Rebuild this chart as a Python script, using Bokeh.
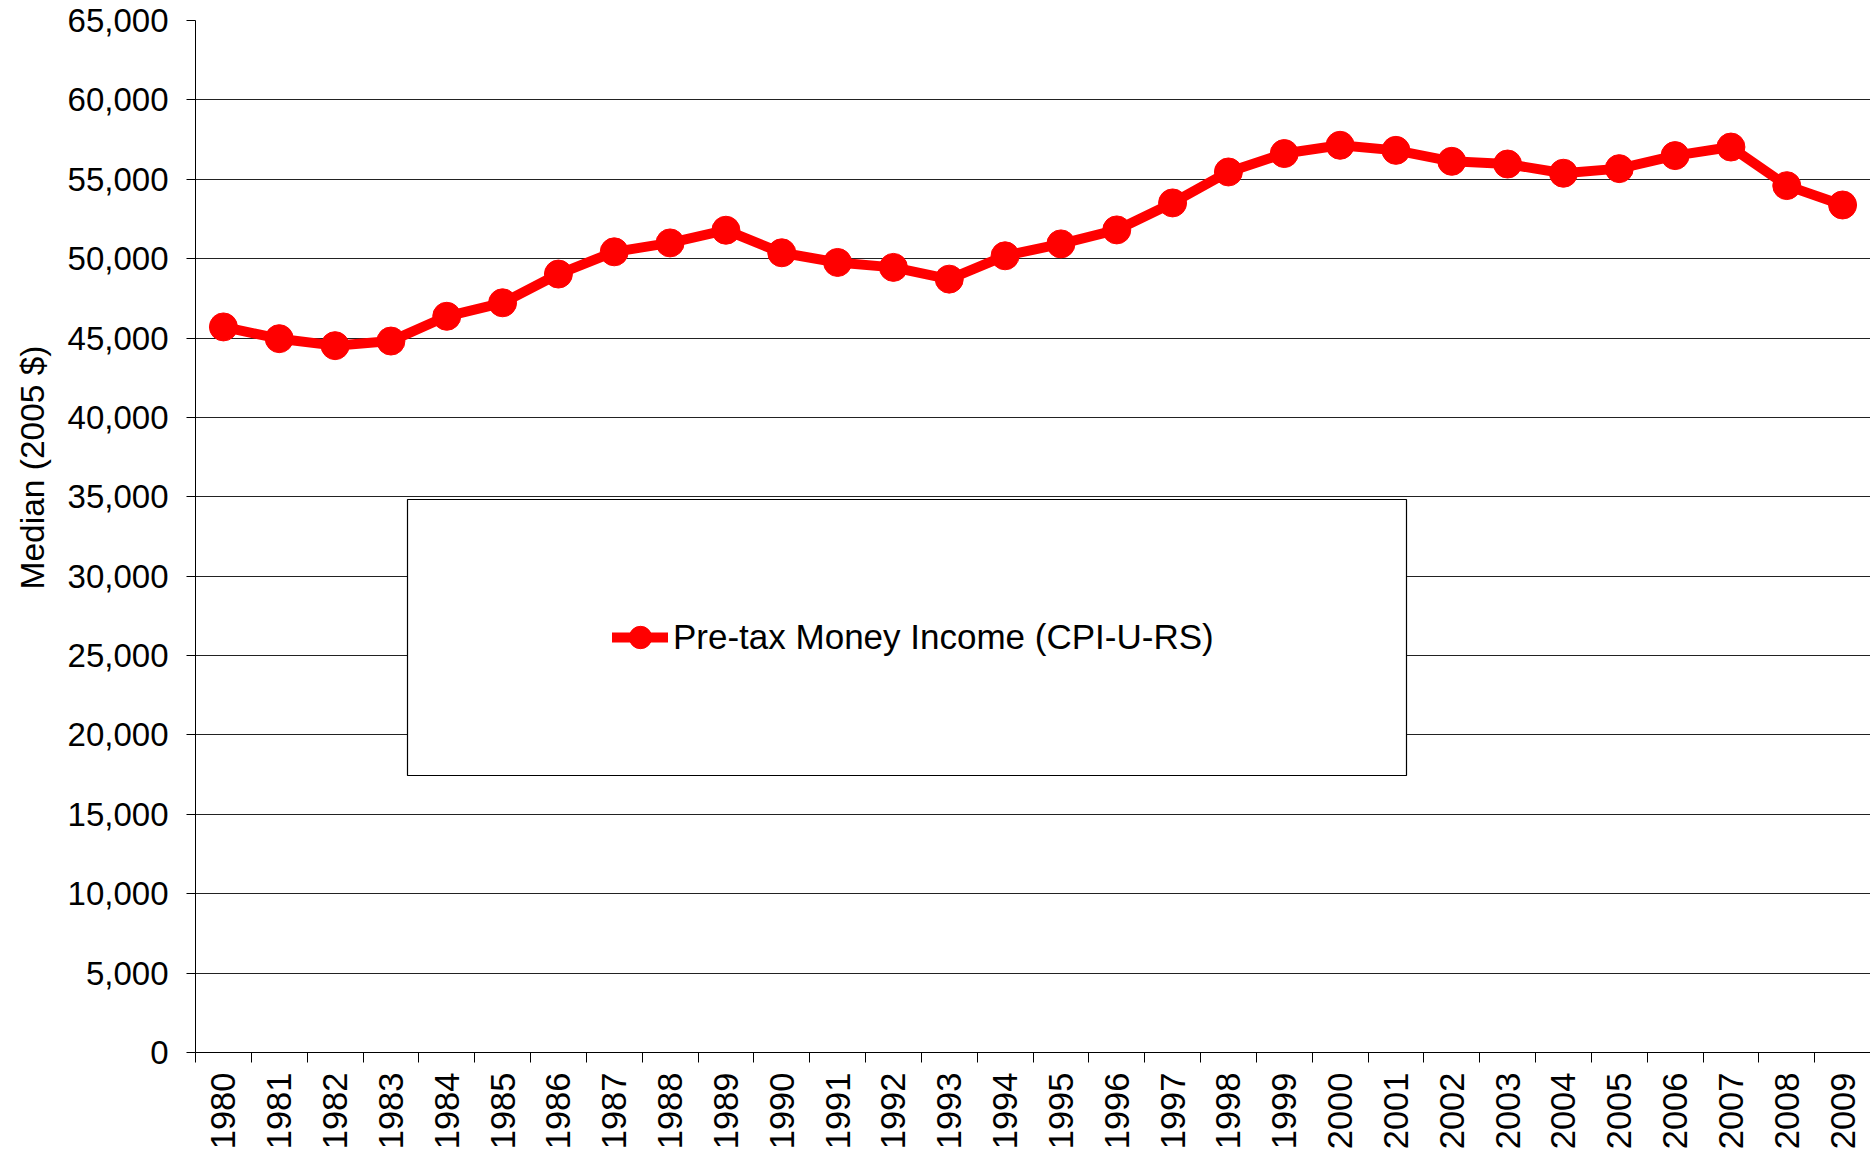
import math
from bokeh.plotting import figure
from bokeh.models import (Range1d, FixedTicker, NumeralTickFormatter, Legend, LegendItem,
                          BoxAnnotation, Title, ColumnDataSource)
from bokeh.embed import file_html
from bokeh.resources import INLINE

# ---- data ----
years = [1980, 1981, 1982, 1983, 1984, 1985, 1986, 1987, 1988, 1989,
         1990, 1991, 1992, 1993, 1994, 1995, 1996, 1997, 1998, 1999,
         2000, 2001, 2002, 2003, 2004, 2005, 2006, 2007, 2008, 2009]
income = [45700, 44960, 44520, 44810, 46370, 47220, 49030, 50430, 50990, 51790,
          50370, 49760, 49450, 48710, 50180, 50930, 51810, 53510, 55460, 56620,
          57140, 56820, 56130, 55960, 55380, 55670, 56490, 57030, 54600, 53380]
y_ticks = [0, 5000, 10000, 15000, 20000, 25000, 30000, 35000,
           40000, 45000, 50000, 55000, 60000, 65000]
series_name = "Pre-tax Money Income (CPI-U-RS)"
y_title = "Median (2005 $)"

FONT = "Liberation Sans"
RED = "#FF0000"

src = ColumnDataSource(dict(year=years, income=income))

p = figure(width=1870, height=1152, output_backend="svg", toolbar_location=None,
           x_range=Range1d(years[0] - 0.5, years[-1] + 0.5),
           y_range=Range1d(y_ticks[0], y_ticks[-1]),
           min_border_left=195, min_border_right=0, min_border_top=20, min_border_bottom=0)
p.outline_line_color = None
p.background_fill_color = "white"
p.border_fill_color = "white"

line = p.line("year", "income", source=src, line_color=RED, line_width=10,
              line_join="round", line_cap="round")
dots = p.scatter("year", "income", source=src, size=28, fill_color=RED, line_color=RED)

# grid
p.xgrid.visible = False
p.ygrid.grid_line_color = "#222222"
p.ygrid.grid_line_width = 1

# y axis
ya = p.yaxis[0]
ya.ticker = FixedTicker(ticks=y_ticks)
ya.formatter = NumeralTickFormatter(format="0,0")
ya.major_tick_out = 9
ya.major_tick_in = 0
ya.minor_tick_out = 0
ya.minor_tick_in = 0
ya.major_label_standoff = 18
ya.major_label_text_font = FONT
ya.major_label_text_font_size = "33px"
ya.major_label_text_color = "black"
ya.axis_line_color = "black"
ya.major_tick_line_color = "black"

# x axis: labels at category centres, ticks at boundaries
xa = p.xaxis[0]
xa.ticker = FixedTicker(ticks=years,
                        minor_ticks=[y - 0.5 for y in years] + [years[-1] + 0.5])
xa.major_tick_out = 0
xa.major_tick_in = 0
xa.minor_tick_out = 10
xa.minor_tick_in = 0
xa.minor_tick_line_color = "black"
xa.major_label_orientation = math.pi / 2
xa.major_label_standoff = 10
xa.major_label_text_font = FONT
xa.major_label_text_font_size = "34.5px"
xa.major_label_text_color = "black"
xa.axis_line_color = "black"

# y axis title (sits above the vertical centre, as in the reference)
p.add_layout(Title(text=y_title, align="right", vertical_align="top", offset=325,
                   standoff=24, text_font=FONT, text_font_size="33.5px",
                   text_font_style="normal", text_color="black"), "left")

# legend frame and legend
p.add_layout(BoxAnnotation(left=212, right=1211, bottom=277, top=553,
                           left_units="screen", right_units="screen",
                           top_units="screen", bottom_units="screen",
                           fill_color="white", fill_alpha=1.0,
                           line_color="black", line_width=1.2, line_alpha=1.0))
legend = Legend(items=[LegendItem(label=series_name, renderers=[line, dots])],
                location=(417, 386), margin=0, padding=0, spacing=0,
                glyph_width=56, glyph_height=58, label_height=58, label_standoff=5,
                label_text_font=FONT, label_text_font_size="35px", label_text_color="black",
                border_line_color=None, background_fill_alpha=0)
p.add_layout(legend)

open("out.html", "w").write(file_html(p, INLINE))
